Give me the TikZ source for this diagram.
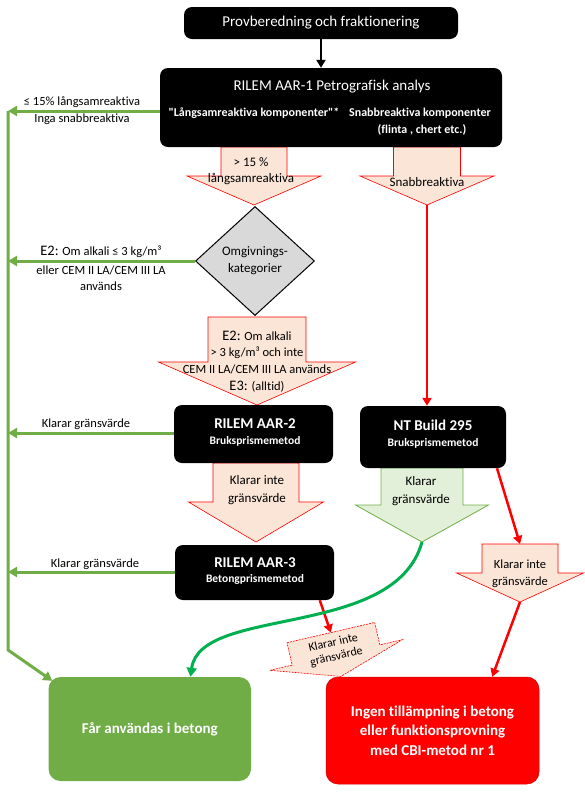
\documentclass[tikz,border=0pt]{standalone}
\usepackage{fontspec}
\setmainfont{Carlito}[Ligatures={TeXOff,CommonOff}]
\usetikzlibrary{arrows.meta,shapes.geometric}
\definecolor{pinkfill}{HTML}{FBE5D6}
\definecolor{railgreen}{HTML}{70AD47}
\definecolor{curvegreen}{HTML}{00B050}
\definecolor{lightgreen}{HTML}{E2F0D9}
\definecolor{diagray}{HTML}{D9D9D9}
\newcommand\blockarrowdown[8]{%
  \draw[#1] (#2-#4,#3) -- (#2+#4,#3) -- (#2+#4,#5) -- (#2+#6,#5) -- (#2,#7) -- (#2-#6,#5) -- (#2-#4,#5) -- cycle;
  \coordinate (#8top) at (#2,#3);
  \coordinate (#8tip) at (#2,#7);}
\tikzset{
  blackbox/.style={fill=black, rounded corners=8pt, inner sep=0pt},
  railarrow/.style={draw=railgreen, line width=3pt, -{Triangle[length=9pt,width=10pt]}},
  redarrow/.style={draw=red, line width=2.5pt, -{Triangle[length=8pt,width=9pt]}},
  blackarrow/.style={draw=black, line width=2.5pt, -{Triangle[length=8pt,width=9pt]}},
  pinkarrow/.style={fill=pinkfill, draw=red, line width=0.6pt},
  greenblock/.style={fill=lightgreen, draw=railgreen, line width=0.8pt},
  lbl/.style={font=\fontsize{12.5}{16}\selectfont, align=center, inner sep=0pt},
  wbig/.style={text=white, font=\fontsize{15}{18}\selectfont, inner sep=0pt},
  wbold/.style={text=white, font=\fontsize{15}{18}\selectfont\bfseries, inner sep=0pt},
  wsmall/.style={text=white, font=\fontsize{11.5}{14}\selectfont\bfseries, inner sep=0pt},
  wsub/.style={text=white, font=\fontsize{12}{14}\selectfont\bfseries, inner sep=0pt},
  endbox/.style={rounded corners=12pt, text=white, align=center, font=\fontsize{15}{19.5}\selectfont\bfseries, inner sep=0pt},
}
\begin{document}
\begin{tikzpicture}[x=1pt,y=-1pt]
\useasboundingbox (0,0) rectangle (585,793);

% block arrows (drawn first, under the boxes)
\blockarrowdown{pinkarrow}{254}{147}{33}{176}{67}{205}{ba1}
\blockarrowdown{pinkarrow}{427}{147}{33.5}{176}{67}{205}{ba2}
\blockarrowdown{pinkarrow}{257}{317}{49}{362}{98.5}{405}{ba3}
\blockarrowdown{pinkarrow}{256}{463}{43}{502}{67.5}{542}{ba4}
\blockarrowdown{greenblock}{422}{468}{41}{505}{66.5}{542}{gba}
\blockarrowdown{pinkarrow}{520}{544}{38}{573}{63.5}{602}{sba}

\node[lbl, font=\fontsize{13}{16}\selectfont] (t1) at (251,171) {> 15 \%\\långsamreaktiva};
\node[lbl, font=\fontsize{13}{16}\selectfont] (t2) at (427,182) {Snabbreaktiva};
\node[lbl] (e2a) at (257,336) {{\fontsize{14.5}{16}\selectfont E2:} Om alkali};
\node[lbl] (e2b) at (257,353) {> 3 kg/m³ och inte};
\node[lbl] (e2c) at (257,369) {CEM II LA/CEM III LA används};
\node[lbl] (e3) at (257,387) {{\fontsize{14.5}{16}\selectfont E3:} (alltid)};
\node[lbl, font=\fontsize{13}{18}\selectfont] (t4) at (257,490) {Klarar inte\\gränsvärde};
\node[lbl, font=\fontsize{13}{18}\selectfont] (tg) at (421,491) {Klarar\\gränsvärde};
\node[lbl, font=\fontsize{12.5}{17}\selectfont] (ts) at (520,574) {Klarar inte\\gränsvärde};

% rotated block arrow
\begin{scope}[shift={(336,655)}, rotate=13]
  \draw[pinkarrow, dash pattern=on 2pt off 1pt] (-45,-23) -- (45,-23) -- (45,0) -- (68,0) -- (0,22) -- (-68,0) -- (-45,0) -- cycle;
  \coordinate (rtop) at (0,-23);
  \node[lbl, transform shape, font=\fontsize{12}{14}\selectfont] (tr1) at (0,-13) {Klarar inte};
  \node[lbl, transform shape, font=\fontsize{12}{14}\selectfont] (tr2) at (0,2) {gränsvärde};
\end{scope}

% boxes
\node[blackbox, minimum width=274pt, minimum height=32pt, wbig] (prov) at (321,23) {Provberedning och fraktionering};
\node[blackbox, minimum width=342pt, minimum height=79pt] (aar1) at (331,107.5) {};
\node[wbig] (aar1t) at (332,87) {RILEM AAR-1 Petrografisk analys};
\node[wsub] (langs) at (254,113) {"Långsamreaktiva komponenter"*};
\node[wsub] (snab) at (420,113) {Snabbreaktiva komponenter};
\node[wsub] (flinta) at (422,130) {(flinta , chert etc.)};

\node[diamond, fill=diagray, draw=black, line width=1pt, minimum width=119pt, minimum height=109pt, inner sep=0pt,
      align=center, font=\fontsize{13}{17}\selectfont] (omg) at (255,261) {Omgivnings-\\kategorier};

\node[blackbox, minimum width=159pt, minimum height=58pt] (aar2) at (253.5,434) {};
\node[wbold] (aar2t) at (255,424) {RILEM AAR-2};
\node[wsmall] (aar2s) at (255,441) {Bruksprismemetod};

\node[blackbox, minimum width=146pt, minimum height=62pt] (ntb) at (433,437) {};
\node[wbold] (ntbt) at (433,425) {NT Build 295};
\node[wsmall] (ntbs) at (433,443) {Bruksprismemetod};

\node[blackbox, minimum width=159pt, minimum height=55pt] (aar3) at (254.5,572.5) {};
\node[wbold] (aar3t) at (255,563) {RILEM AAR-3};
\node[wsmall] (aar3s) at (255,579) {Betongprismemetod};

\node[endbox, fill=railgreen, minimum width=202.5pt, minimum height=104pt] (greenbox) at (149.75,729) {Får användas i betong};
\node[endbox, fill=red, draw=red!80!black, line width=0.5pt, minimum width=213pt, minimum height=107pt] (redbox) at (432.5,730.5)
  {Ingen tillämpning i betong\\eller funktionsprovning\\med CBI-metod nr 1};

% rail labels
\node[lbl] (l1a) at (82,102) {≤ 15\% långsamreaktiva};
\node[lbl] (l1b) at (82,119.5) {Inga snabbreaktiva};
\node[lbl] (l2a) at (101,252) {{\fontsize{14.5}{16}\selectfont E2:} Om alkali ≤ 3 kg/m³};
\node[lbl] (l2b) at (101,270) {eller CEM II LA/CEM III LA};
\node[lbl] (l2c) at (101,286) {används};
\node[lbl] (l3) at (86,424) {Klarar gränsvärde};
\node[lbl] (l4) at (95,564) {Klarar gränsvärde};

% connectors
\draw[blackarrow] (prov.south) -- (prov.south |- aar1.north);
\coordinate (r1) at (8,111);
\coordinate (r2) at (8,261);
\coordinate (r3) at (8,433);
\coordinate (r4) at (8,572);
\coordinate (rb) at (8,650);
\draw[railarrow] (r1 -| aar1.west) -- (r1);
\draw[railarrow] (omg.west) -- (r2);
\draw[railarrow] (r3 -| aar2.west) -- (r3);
\draw[railarrow] (r4 -| aar3.west) -- (r4);
\draw[railarrow] (r1) -- (rb) -- ([shift={(4,4)}]greenbox.north west);

\draw[redarrow] (ba2tip) -- (ba2tip |- ntb.north);
\draw[redarrow] (ntb.-26) -- (sbatop);
\draw[redarrow] (aar3.-23) -- (rtop);
\draw[redarrow] (sbatip) -- (redbox.42);
\draw[draw=curvegreen, line width=3pt, -{Triangle[length=9pt,width=10pt]}]
  (gbatip) .. controls (395,640) and (200,605) .. (greenbox.52);
\end{tikzpicture}
\end{document}
